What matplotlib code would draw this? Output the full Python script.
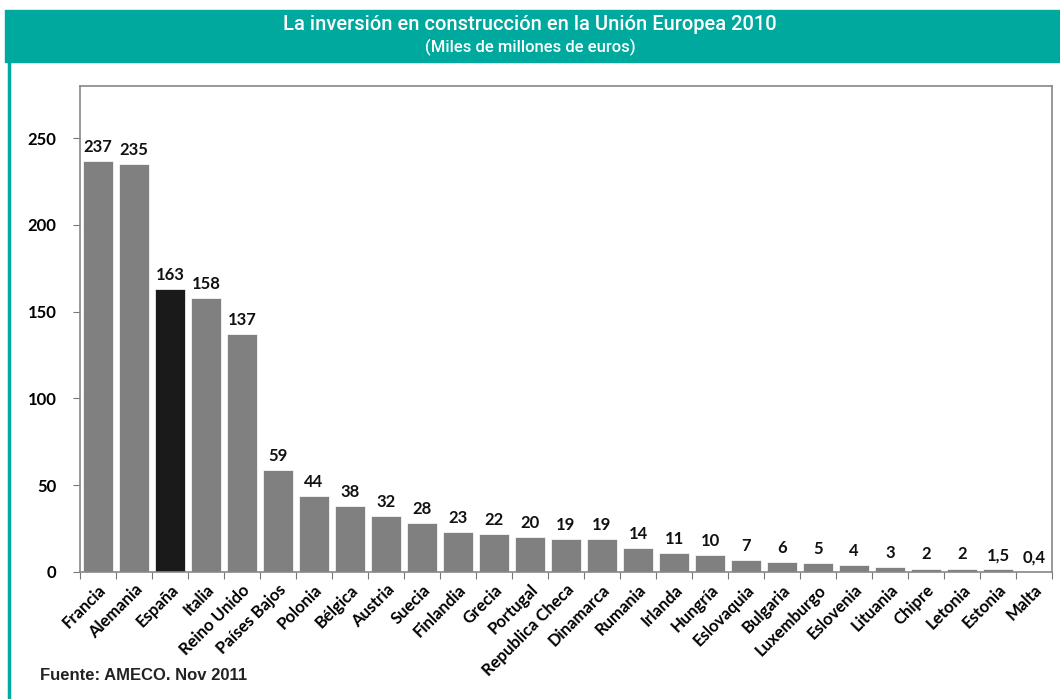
import matplotlib.pyplot as plt
from matplotlib.patches import Rectangle
from matplotlib.lines import Line2D

paises = ["Francia", "Alemania", "España", "Italia", "Reino Unido", "Países Bajos",
          "Polonia", "Bélgica", "Austria", "Suecia", "Finlandia", "Grecia", "Portugal",
          "Republica Checa", "Dinamarca", "Rumania", "Irlanda", "Hungría", "Eslovaquia",
          "Bulgaria", "Luxemburgo", "Eslovenia", "Lituania", "Chipre", "Letonia",
          "Estonia", "Malta"]
inversion = [237, 235, 163, 158, 137, 59, 44, 38, 32, 28, 23, 22, 20, 19, 19, 14,
             11, 10, 7, 6, 5, 4, 3, 2, 2, 1.5, 0.4]
etiquetas = ["237", "235", "163", "158", "137", "59", "44", "38", "32", "28", "23",
             "22", "20", "19", "19", "14", "11", "10", "7", "6", "5", "4", "3", "2",
             "2", "1,5", "0,4"]
y_ticks = [0, 50, 100, 150, 200, 250]

teal = "#00a99d"
fuente = "Lato"

fig = plt.figure(figsize=(10.6, 6.99), dpi=100)

# cabecera verde con el titulo
fig.patches.append(Rectangle((5 / 1060, 1 - 62 / 699), 1, 52 / 699,
                             transform=fig.transFigure, color=teal, zorder=0))
fig.lines.append(Line2D([9 / 1060, 9 / 1060], [0, 1 - 62 / 699],
                        transform=fig.transFigure, color=teal, lw=2.5))
fig.text(0.5, 1 - 25 / 699, "La inversión en construcción en la Unión Europea 2010",
         ha="center", va="center", color="white", fontsize=14.5, fontfamily="Roboto",
         fontweight="medium")
fig.text(0.5, 1 - 47 / 699, "(Miles de millones de euros)",
         ha="center", va="center", color="white", fontsize=12, fontfamily="Roboto",
         fontweight="medium")

ax = fig.add_axes([80 / 1060, 1 - 572 / 699, 972 / 1060, 486 / 699])
x = range(len(paises))
colores = ["#1a1a1a" if p == "España" else "#808080" for p in paises]
ax.bar(x, inversion, width=0.82, color=colores, edgecolor="white", linewidth=0.5)

for i, (v, t) in enumerate(zip(inversion, etiquetas)):
    ax.text(i, v + 3.5, t, ha="center", va="bottom", fontsize=12,
            fontweight="bold", fontfamily=fuente, color="#111111")

ax.set_xlim(-0.5, len(paises) - 0.5)
ax.set_ylim(0, 280)
ax.set_yticks(y_ticks)
ax.set_yticklabels([str(t) for t in y_ticks], fontsize=12, fontweight="bold",
                   fontfamily=fuente)

# marcas del eje x entre categorias
ax.set_xticks([i - 0.5 for i in range(len(paises) + 1)], minor=False)
ax.set_xticklabels([])
ax.set_xticks(list(x), minor=True)
ax.set_xticklabels(paises, minor=True, rotation=45, ha="right", rotation_mode="anchor",
                   fontsize=12, fontweight="bold", fontfamily=fuente)
ax.tick_params(axis="x", which="minor", length=0, pad=7)
ax.tick_params(axis="x", which="major", length=5, color="#777777")
ax.tick_params(axis="y", length=5, color="#777777", pad=12)

for s in ax.spines.values():
    s.set_color("#888888")
    s.set_linewidth(1.2)

fig.text(40 / 1060, 1 - 675 / 699, "Fuente: AMECO. Nov 2011", ha="left", va="center",
         fontsize=12, fontweight="bold", fontfamily="Liberation Sans", color="#222222")

fig.savefig("out.png", dpi=100)
